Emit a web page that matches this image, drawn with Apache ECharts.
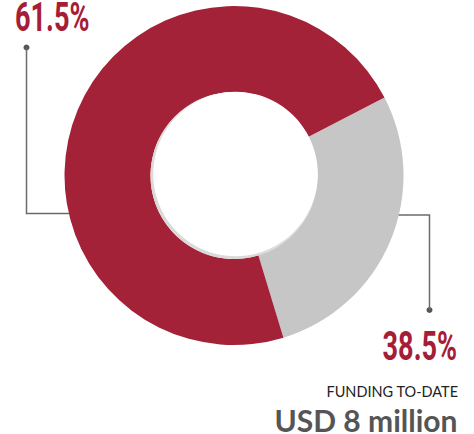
<!DOCTYPE html>
<html><head><meta charset="utf-8">
<script src="https://cdn.jsdelivr.net/npm/echarts@6/dist/echarts.min.js"></script>
<style>html,body{margin:0;padding:0;background:#fff}#c{width:474px;height:434px}</style>
</head><body><div id="c"></div>
<script>
// Data
var categories = ['Remaining', 'Funded'];
var sliceValues = [27.9, 72.1];          // arc shares as drawn in the picture
var percentLabels = ['38.5%', '61.5%'];
var colors = ['#C6C6C6', '#A32238'];
var captionTop = 'FUNDING TO-DATE';
var captionMain = 'USD 8 million';

var cx = 234, cy = 175.5, R = 169.5, r = 83.5;
var chart = echarts.init(document.getElementById('c'), null, {renderer: 'svg'});
var pctFont = 'Roboto, "DejaVu Sans", sans-serif';
var lineColor = '#6b6b6b';

function edgeX(y, side) { var dy = y - cy; return cx + side * Math.sqrt(R * R - dy * dy); }

chart.setOption({
  animation: false,
  graphic: [
    {type: 'polyline', z: 1, shape: {points: [[edgeX(213.5, -1) + 4, 213.5], [26.5, 213.5], [26.5, 47.5]]}, style: {stroke: lineColor, lineWidth: 1.5, fill: null}},
    {type: 'circle', shape: {cx: 26.5, cy: 47.5, r: 3}, style: {fill: '#555'}},
    {type: 'polyline', z: 1, shape: {points: [[edgeX(215, 1) - 4, 215], [429.5, 215], [429.5, 310]]}, style: {stroke: lineColor, lineWidth: 1.5, fill: null}},
    {type: 'circle', shape: {cx: 429.5, cy: 310, r: 3}, style: {fill: '#555'}},
    {type: 'text', x: 15, y: 16.5, scaleX: 0.66, originX: 0, style: {text: percentLabels[1], x: 0, y: 0, textAlign: 'left', textVerticalAlign: 'middle', lineHeight: 28, fill: '#A51D37', font: 'bold 41px ' + pctFont}},
    {type: 'text', x: 457, y: 346, scaleX: 0.66, originX: 0, style: {text: percentLabels[0], x: 0, y: 0, textAlign: 'right', textVerticalAlign: 'middle', lineHeight: 28, fill: '#A51D37', font: 'bold 41px ' + pctFont}},
    {type: 'text', x: 458, y: 391, style: {text: captionTop, x: 0, y: 0, textAlign: 'right', textVerticalAlign: 'middle', lineHeight: 14, fill: '#222', font: '14.5px Lato, "Open Sans", sans-serif'}},
    {type: 'text', x: 457.5, y: 420, style: {text: captionMain, x: 0, y: 0, textAlign: 'right', textVerticalAlign: 'middle', lineHeight: 26, fill: '#555', font: 'bold 30px Lato, "Open Sans", sans-serif'}}
  ],
  series: [
    {
      type: 'pie', z: 2, center: [cx, cy], radius: [r, R], startAngle: 27.4, clockwise: true,
      label: {show: false}, labelLine: {show: false}, silent: true,
      data: categories.map(function (c, i) { return {name: c, value: sliceValues[i], itemStyle: {color: colors[i]}}; })
    },
    {
      type: 'pie', z: 3, center: [cx, cy], radius: [0, r], silent: true,
      label: {show: false}, labelLine: {show: false},
      data: [{value: 1, itemStyle: {color: '#dadada'}}]
    },
    {
      type: 'pie', z: 4, center: [cx + 1.5, cy - 1.5], radius: [0, r - 1.2], silent: true,
      label: {show: false}, labelLine: {show: false},
      data: [{value: 1, itemStyle: {color: '#fff'}}]
    }
  ]
});
</script></body></html>
